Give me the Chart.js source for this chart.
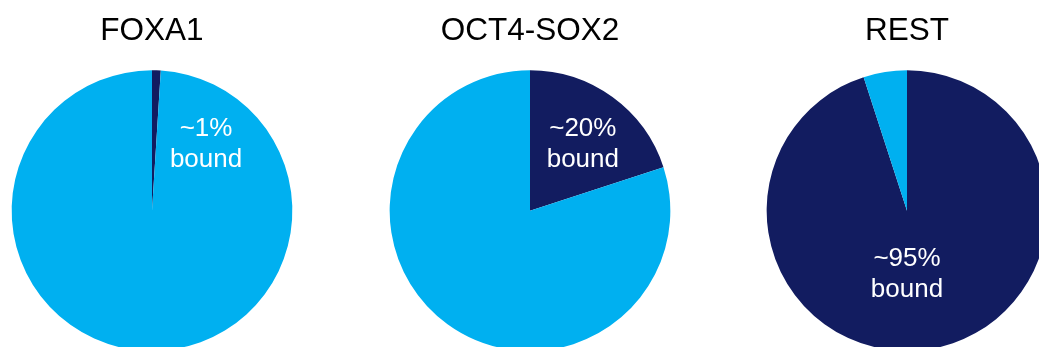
<!DOCTYPE html>
<html>
<head>
<meta charset="utf-8">
<script src="https://cdn.jsdelivr.net/npm/chart.js@4/dist/chart.umd.min.js"></script>
<style>
  html, body { margin: 0; padding: 0; background: #fff; }
  #wrap { position: relative; width: 1039px; height: 347px; overflow: hidden; }
  #wrap canvas { position: absolute; top: 0; }
</style>
</head>
<body>
<div id="wrap">
  <canvas id="pie0" width="300" height="380" style="left:1.5px"></canvas>
  <canvas id="pie1" width="300" height="380" style="left:379.5px"></canvas>
  <canvas id="pie2" width="300" height="380" style="left:757px"></canvas>
</div>
<script>
const factors = ['FOXA1', 'OCT4-SOX2', 'REST'];
const boundPct = [1, 20, 95];
const unboundPct = [99, 80, 5];
const boundText = ['~1%', '~20%', '~95%'];

// where the "bound" caption sits: degrees clockwise from 12 o'clock, fraction of radius
const captionAngle = [38.4, 37.6, 180];
const captionDist = [0.62, 0.617, 0.435];

const NAVY = '#121c60';
const CYAN = '#00b0f0';

const captionPlugin = {
  id: 'boundCaption',
  afterDatasetsDraw(chart, args, opts) {
    const arc = chart.getDatasetMeta(0).data[0];
    if (!arc) return;
    const a = opts.angle * Math.PI / 180;
    const r = arc.outerRadius * opts.dist;
    const x = arc.x + Math.sin(a) * r;
    const y = arc.y - Math.cos(a) * r;
    const ctx = chart.ctx;
    ctx.save();
    ctx.fillStyle = '#fff';
    ctx.font = '26px "Liberation Sans", Arial, sans-serif';
    ctx.textAlign = 'center';
    ctx.textBaseline = 'alphabetic';
    ctx.fillText(opts.text, x, y - 6);
    ctx.fillText('bound', x, y + 25);
    ctx.restore();
  }
};

function makePie(i) {
  const ctx = document.getElementById('pie' + i);
  return new Chart(ctx, {
    type: 'pie',
    data: {
      labels: ['bound', 'unbound'],
      datasets: [{
        data: [boundPct[i], unboundPct[i]],
        backgroundColor: [NAVY, CYAN],
        borderWidth: 0,
        hoverOffset: 0
      }]
    },
    options: {
      responsive: false,
      animation: false,
      events: [],
      layout: {
        padding: { left: 9.5, right: 9.5, top: 0, bottom: 29 }
      },
      plugins: {
        legend: { display: false },
        tooltip: { enabled: false },
        title: {
          display: true,
          text: factors[i],
          color: '#000',
          font: { family: '"Liberation Sans", Arial, sans-serif', size: 31.5, weight: 'normal' },
          padding: { top: 12.5, bottom: 20 }
        },
        boundCaption: {
          text: boundText[i],
          angle: captionAngle[i],
          dist: captionDist[i]
        }
      }
    },
    plugins: [captionPlugin]
  });
}

factors.forEach((f, i) => makePie(i));
</script>
</body>
</html>
